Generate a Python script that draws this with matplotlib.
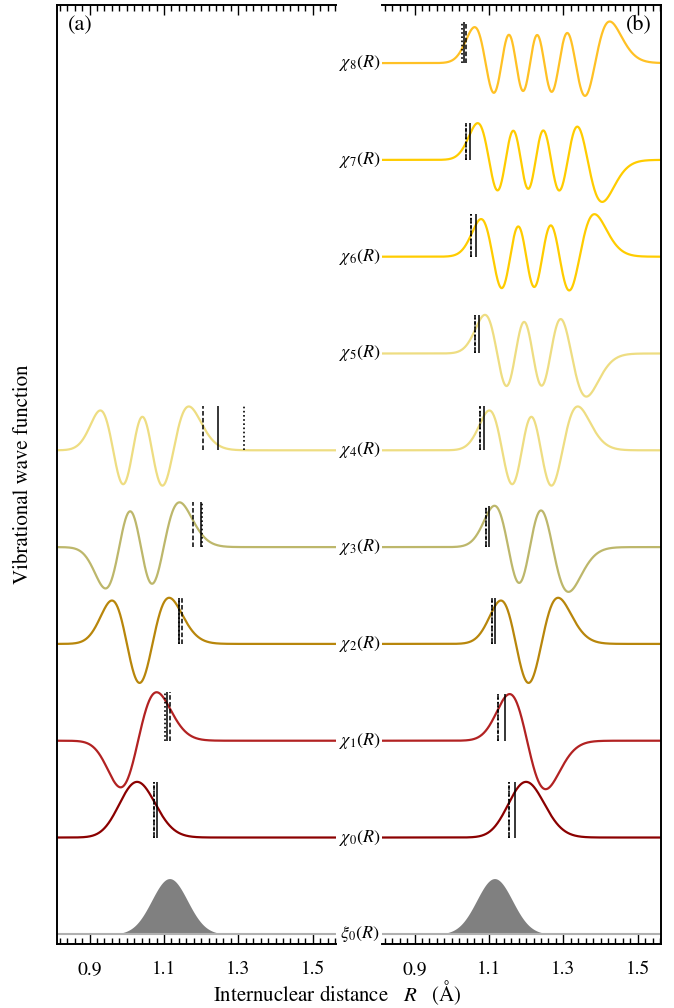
import numpy as np
import matplotlib
matplotlib.use('Agg')
import matplotlib.pyplot as plt
from matplotlib.ticker import MultipleLocator
from matplotlib.transforms import blended_transform_factory

plt.rcParams['font.family'] = ['STIXGeneral', 'DejaVu Serif']
plt.rcParams['mathtext.fontset'] = 'stix'

# potential / wave function model
r_eq_a = 1.025          # equilibrium distance, panel (a)
r_eq_b = 1.197          # equilibrium distance, panel (b)
morse_a = 2.4           # Morse range parameter (1/A)
gs_width = 0.048        # ground state width (A)
amp = 0.168             # plot units per unit of psi
xi_center = 1.115       # centre of xi_0

n_a = 5
n_b = 9

state_colors = ['#8b0000', '#b22222', '#b8860b', '#bdb76b', '#eedd82',
                '#eedd82', '#ffcc00', '#ffcc00', '#ffc125']

# marker lines (A)
solid_a = [1.081, 1.1075, 1.141, 1.199, 1.245]
dashed_a = [1.073, 1.117, 1.149, 1.178, 1.204]
dotted_a = [1.073, 1.102, 1.141, 1.201, 1.315]

solid_b = [1.169, 1.143, 1.117, 1.100, 1.087, 1.073, 1.065, 1.048, 1.034]
dashed_b = [1.154, 1.124, 1.108, 1.091, 1.076, 1.063, 1.053, 1.039, 1.038]
dotted_b = [1.154, 1.124, 1.108, 1.091, 1.076, 1.063, 1.053, 1.039, 1.027]

xticks = [0.9, 1.1, 1.3, 1.5]
xlim = (0.8125, 1.5625)

# Morse eigenstates on a grid (hbar = m = 1)
x = np.linspace(-0.5, 1.0, 1500)
dx = x[1] - x[0]
omega = 1.0 / gs_width**2
lam = omega / morse_a**2
D = lam**2 * morse_a**2 / 2
V = D * (1 - np.exp(-morse_a * x))**2
off = np.full(len(x) - 1, -0.5 / dx**2)
H = np.diag(V + 1.0 / dx**2) + np.diag(off, 1) + np.diag(off, -1)
w, v = np.linalg.eigh(H)
psi = v[:, :n_b].T / np.sqrt(dx)


def fix_sign(p, left_first):
    big = np.where(np.abs(p) > 0.2 * np.abs(p).max())[0]
    i = big[0] if left_first else big[-1]
    return p if p[i] > 0 else -p


fig = plt.figure(figsize=(6.74, 10.08), dpi=100)
ax_a = fig.add_axes([57/674, 64/1008, 279/674, 939/1008])
ax_b = fig.add_axes([382/674, 64/1008, 279/674, 939/1008])

r_xi = np.linspace(xlim[0], xlim[1], 600)
xi = amp * (np.pi * gs_width**2)**-0.25 * np.exp(-(r_xi - xi_center)**2 / (2 * gs_width**2))

panels = [(ax_a, r_eq_a, n_a, solid_a, dashed_a, dotted_a, False),
          (ax_b, r_eq_b, n_b, solid_b, dashed_b, dotted_b, True)]

for ax, r_eq, n_states, sol, das, dot, left_first in panels:
    ax.fill_between(r_xi, 0, xi, color='#808080', lw=0)
    ax.plot(r_xi, xi * 0, color='#b0b0b0', lw=1.5)
    R = x + r_eq
    for n in range(n_states):
        p = fix_sign(psi[n], left_first)
        base = n + 1
        ax.plot(R, base + amp * p, color=state_colors[n], lw=1.6, zorder=2)
        top = base + amp * p.max()
        ax.vlines(sol[n], base, top, colors='k', lw=1.1, zorder=3)
        ax.vlines(das[n], base, top, colors='k', lw=1.1, linestyles=(0, (3, 1.5)), zorder=3)
        ax.vlines(dot[n], base, top, colors='k', lw=1.2, linestyles=(0, (1, 1.5)), zorder=3)
    ax.set_xlim(*xlim)
    ax.set_ylim(-0.1, 9.6)
    ax.set_yticks([])
    ax.set_xticks(xticks)
    ax.set_xticklabels(['%.1f' % t for t in xticks])
    ax.xaxis.set_minor_locator(MultipleLocator(0.02))
    ax.tick_params(axis='x', which='both', direction='in', top=True, bottom=True,
                   labelsize=14, pad=12, width=1)
    ax.tick_params(axis='x', which='major', length=7)
    ax.tick_params(axis='x', which='minor', length=4)
    for s in ax.spines.values():
        s.set_linewidth(1.4)

ax_a.spines['right'].set_visible(False)
ax_b.spines['left'].set_visible(False)

trans = blended_transform_factory(ax_a.transAxes, ax_a.transData)
xc = (359.5 - 57) / 279
ax_a.text(xc, 0, r'$\xi_0(R)$', transform=trans, ha='center', va='center',
          fontsize=13, clip_on=False)
for n in range(n_b):
    ax_a.text(xc, n + 1, r'$\chi_{%d}(R)$' % n, transform=trans, ha='center',
              va='center', fontsize=13, clip_on=False)

ax_a.text(0.04, 0.989, '(a)', transform=ax_a.transAxes, ha='left', va='top', fontsize=16)
ax_b.text(0.968, 0.989, '(b)', transform=ax_b.transAxes, ha='right', va='top', fontsize=16)

ax_a.set_ylabel('Vibrational wave function', fontsize=15, labelpad=17)
fig.text(0.5, 1 - 993/1008, r'Internuclear distance   $R$   (Å)', ha='center',
         va='center', fontsize=15)

fig.savefig('out.png', dpi=100)
